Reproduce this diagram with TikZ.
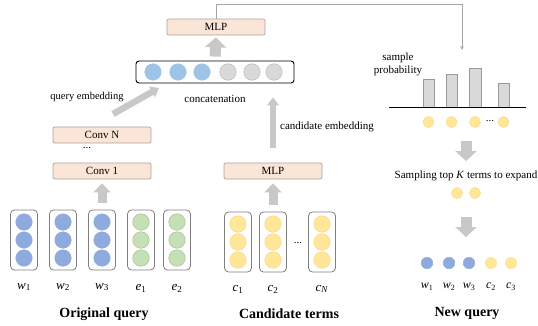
\documentclass[tikz,border=0pt]{standalone}
\usepackage{fontspec}
\setmainfont{Liberation Serif}
\usetikzlibrary{arrows.meta}

\definecolor{peach}{HTML}{FBE5D6}
\definecolor{boxgray}{HTML}{ABA3A0}
\definecolor{colgray}{HTML}{7F7F7F}
\definecolor{qblue}{HTML}{8FAADC}
\definecolor{cblue}{HTML}{9DC3E6}
\definecolor{egreen}{HTML}{C5E0B4}
\definecolor{cyellow}{HTML}{FFE699}
\definecolor{lgray}{HTML}{D9D9D9}
\definecolor{arrgray}{HTML}{C8C8C8}

\newcommand{\lab}[2]{\textit{#1}\textsubscript{#2}}

\tikzset{
  every node/.style={font=\fontsize{11}{13}\selectfont},
  layer/.style={draw=boxgray, line width=0.7pt, fill=peach, rounded corners=2pt, minimum width=98pt, minimum height=16pt, inner sep=0pt},
  column/.style={draw=colgray, line width=0.8pt, rounded corners=4pt, minimum width=27pt, minimum height=60pt},
  ball/.style={circle, inner sep=0pt, minimum size=16.5pt, line width=0.5pt},
  qball/.style={ball, fill=qblue, draw=qblue},
  cball/.style={ball, fill=cblue, draw=cblue},
  eball/.style={ball, fill=egreen, draw=egreen!85!black},
  yball/.style={ball, fill=cyellow, draw=cyellow!85!orange},
  gball/.style={ball, fill=lgray, draw=lgray!85!black},
  small/.style={circle, inner sep=0pt, minimum size=#1, line width=0.5pt},
  lab/.style={font=\fontsize{13}{13}\selectfont, inner sep=0pt},
  title/.style={font=\fontsize{14}{16}\selectfont\bfseries},
  bigarr/.style={draw=arrgray, line width=11pt, -{Triangle[width=21pt,length=10pt]}},
  midarr/.style={draw=arrgray, line width=9pt, -{Triangle[width=17pt,length=9pt]}},
  thinarr/.style={draw=arrgray, line width=6.5pt, -{Triangle[width=12pt,length=8pt]}},
  link/.style={draw=gray!70, line width=0.6pt, -{Stealth[length=4pt,width=3.5pt]}}
}

\begin{document}
\begin{tikzpicture}[x=1pt, y=-1pt]
  \useasboundingbox (0,0) rectangle (538,325);

  % original query columns
  \foreach \n/\x/\s in {w1/24/qball, w2/63/qball, w3/102/qball, e1/141/eball, e2/177/eball} {
    \node[column] (\n) at (\x,240) {};
    \foreach \y [count=\i] in {222,240,258}
      \node[\s] (\n-\i) at (\x,\y) {};
  }
  \node[lab] (lw1) at (24,287) {\lab{w}{1}};
  \node[lab] (lw2) at (63,287) {\lab{w}{2}};
  \node[lab] (lw3) at (102,287) {\lab{w}{3}};
  \node[lab] (le1) at (141,288) {\lab{e}{1}};
  \node[lab] (le2) at (177,288) {\lab{e}{2}};
  \node[title] (origq) at (104,314) {Original query};

  % candidate columns
  \foreach \n/\x in {c1/238, c2/273, cN/322} {
    \node[column] (\n) at (\x,242) {};
    \foreach \y [count=\i] in {224,242,260}
      \node[yball] (\n-\i) at (\x,\y) {};
  }
  \node (cdots) at (298,243) {...};
  \node[lab] (lc1) at (238,289) {\lab{c}{1}};
  \node[lab] (lc2) at (273,289) {\lab{c}{2}};
  \node[lab] (lcN) at (322,289) {\lab{c}{\textit{N}}};
  \node[title] (candt) at (289,314) {Candidate terms};

  % encoders
  \node[layer] (conv1) at (102,171) {Conv 1};
  \node (convdots) at (87,148) {...};
  \node[layer] (convN) at (102,135) {Conv N};
  \node[layer] (mlpc) at (273,171) {MLP};

  % concatenation
  \node[draw, line width=0.9pt, rounded corners=3pt, minimum width=158pt, minimum height=22pt] (concat) at (215,72) {};
  \foreach \x [count=\i] in {153,178,202} \node[cball] (q\i) at (\x,72) {};
  \foreach \x [count=\i] in {228,252,274} \node[gball] (g\i) at (\x,72) {};
  \node (concatlab) at (215,99) {concatenation};
  \node[font=\fontsize{10.5}{12}\selectfont] (qemb) at (87,97) {query embedding};
  \node (cemb) at (327,127) {candidate embedding};
  \node[layer] (mlp) at (216,27) {MLP};

  \coordinate (qtail) at (113,114);
  \coordinate (qhead) at (159,88);
  \draw[midarr, shorten <=7pt, shorten >=4pt] (w3.north) -- (conv1.south);
  \draw[midarr, shorten <=7pt, shorten >=4pt] (c2.north) -- (mlpc.south);
  \draw[thinarr] (qtail) -- (qhead);
  \draw[thinarr, shorten <=15pt, shorten >=14pt] (mlpc.north) -- (mlpc.north |- concat.south);
  \draw[bigarr, shorten <=4pt, shorten >=2pt] (concat.north) -- (mlp.south);

  % sampling
  \coordinate (probin) at (462,50);
  \draw[link] (mlp.north) -- ++(0,-14.5) -| (probin);
  \node[align=center] (sprob) at (398,64.5) {sample\\probability};
  \foreach \a/\b/\t in {423/434/79, 446/457/74, 469/481/68, 498/509/83}
    \draw[fill=lgray, draw=gray!80, line width=0.6pt] (\a,107) rectangle (\b,\t);
  \draw[line width=0.8pt] (389,107) -- (526,107);
  \foreach \x [count=\i] in {428.5,451.5,475,503.5}
    \node[small=11pt, fill=cyellow, draw=cyellow!85!orange] (s\i) at (\x,122) {};
  \node (sdots) at (490,121) {...};

  \coordinate (d1a) at (466,141);
  \coordinate (d1b) at (466,161);
  \draw[bigarr] (d1a) -- (d1b);
  \node (samp) at (466,176) {Sampling top \textit{K} terms to expand};
  \node[small=11pt, fill=cyellow, draw=cyellow!85!orange] (k1) at (457,193) {};
  \node[small=11pt, fill=cyellow, draw=cyellow!85!orange] (k2) at (475,193) {};

  \coordinate (d2a) at (466,217);
  \coordinate (d2b) at (466,237);
  \draw[bigarr] (d2a) -- (d2b);

  % new query
  \foreach \x/\c/\l/\s [count=\i] in {427/qblue/w/1, 449/qblue/w/2, 469/qblue/w/3, 491/cyellow/c/2, 511/cyellow/c/3} {
    \node[small=11.5pt, fill=\c, draw=\c] (n\i) at (\x,263) {};
    \node[lab, font=\fontsize{12}{12}\selectfont] (ln\i) at (\x,287) {\lab{\l}{\s}};
  }
  \node[title] (newq) at (467,313) {New query};
\end{tikzpicture}
\end{document}
